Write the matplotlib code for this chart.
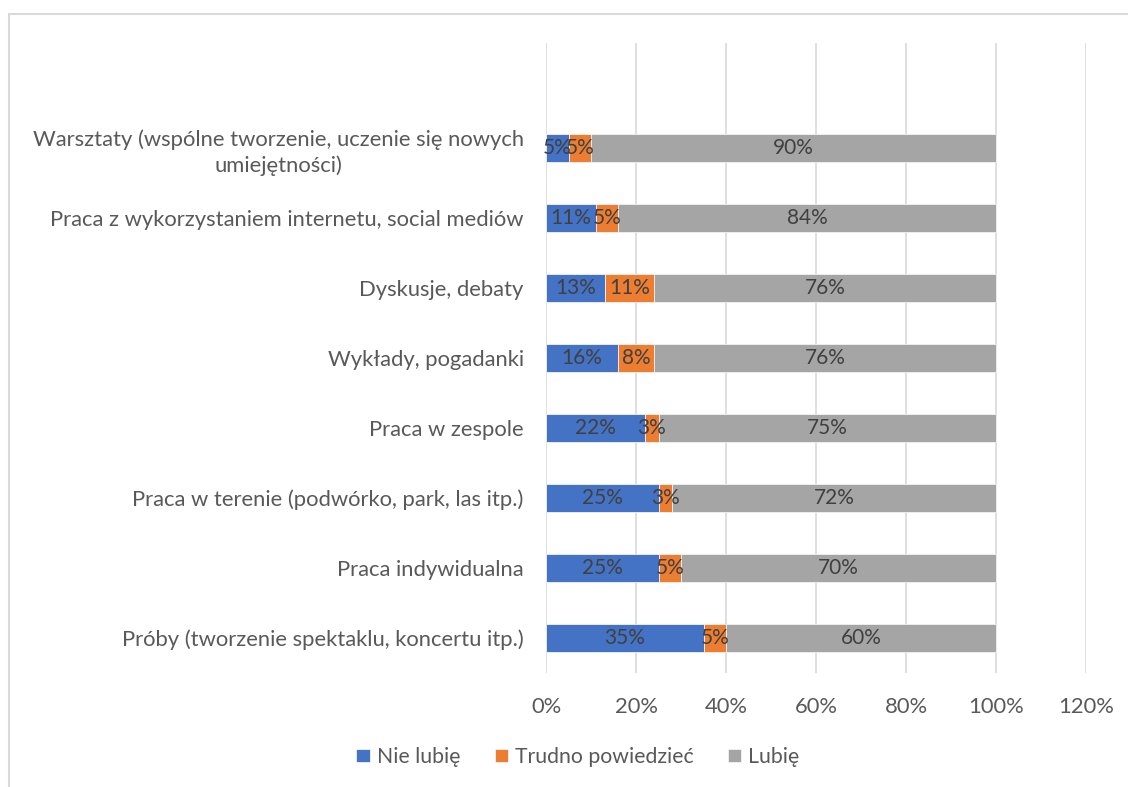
import matplotlib
matplotlib.use("Agg")
from matplotlib import pyplot as plt
from matplotlib.patches import Rectangle
import numpy as np

plt.rcParams['font.family'] = ['Lato', 'DejaVu Sans']

# dane (kolejność od dołu wykresu)
categories = [
    "Próby (tworzenie spektaklu, koncertu itp.)",
    "Praca indywidualna",
    "Praca w terenie (podwórko, park, las itp.)",
    "Praca w zespole",
    "Wykłady, pogadanki",
    "Dyskusje, debaty",
    "Praca z wykorzystaniem internetu, social mediów",
    "Warsztaty (wspólne tworzenie, uczenie się nowych\numiejętności)",
]
nie_lubie = [35, 25, 25, 22, 16, 13, 11, 5]
trudno = [5, 5, 3, 3, 8, 11, 5, 5]
lubie = [60, 70, 72, 75, 76, 76, 84, 90]

series = [
    ("Nie lubię", nie_lubie, "#4472C4"),
    ("Trudno powiedzieć", trudno, "#ED7D31"),
    ("Lubię", lubie, "#A5A5A5"),
]

W, H = 1128, 787
fig = plt.figure(figsize=(W / 100, H / 100), dpi=100)

# ramka obszaru wykresu
fig.patches.append(Rectangle((9 / W, -0.05), 1.2, 1 - 14 / H + 0.05,
                             transform=fig.transFigure, fill=False,
                             edgecolor="#D9D9D9", linewidth=1.5))

ax = fig.add_axes([546 / W, 1 - 673 / H, 540 / W, 630 / H])

y = np.arange(len(categories))
left = np.zeros(len(categories))
for name, vals, color in series:
    vals = np.array(vals, dtype=float)
    ax.barh(y, vals / 100, left=left / 100, height=0.4, color=color,
            edgecolor="#F2F2F2", linewidth=0.6, label=name, zorder=3)
    for yi, l, v in zip(y, left, vals):
        ax.text((l + v / 2) / 100, yi, f"{int(v)}%", ha="center", va="center",
                fontsize=15, color="#404040", zorder=4)
    left += vals

ticks = np.arange(0, 1.21, 0.2)
ax.set_xlim(0, 1.2)
ax.set_ylim(-0.5, len(categories) + 0.5)
ax.set_xticks(ticks)
ax.set_xticklabels([f"{int(round(t * 100))}%" for t in ticks])
ax.set_yticks(y)
ax.set_yticklabels(categories, multialignment="center", linespacing=1.3)
ax.tick_params(axis="both", length=0, labelsize=15.8, labelcolor="#595959")
ax.tick_params(axis="x", pad=17)
ax.tick_params(axis="y", pad=16)
ax.grid(axis="x", color="#D9D9D9", linewidth=1.2, zorder=0)
for s in ax.spines.values():
    s.set_visible(False)

ax.legend(loc="center", bbox_to_anchor=(578 / W, 1 - 757 / H), bbox_transform=fig.transFigure,
          ncol=3, frameon=False, fontsize=15.3, labelcolor="#595959",
          handlelength=0.62, handleheight=0.62, handletextpad=0.35, columnspacing=1.6)

fig.savefig("out.png", dpi=100)
